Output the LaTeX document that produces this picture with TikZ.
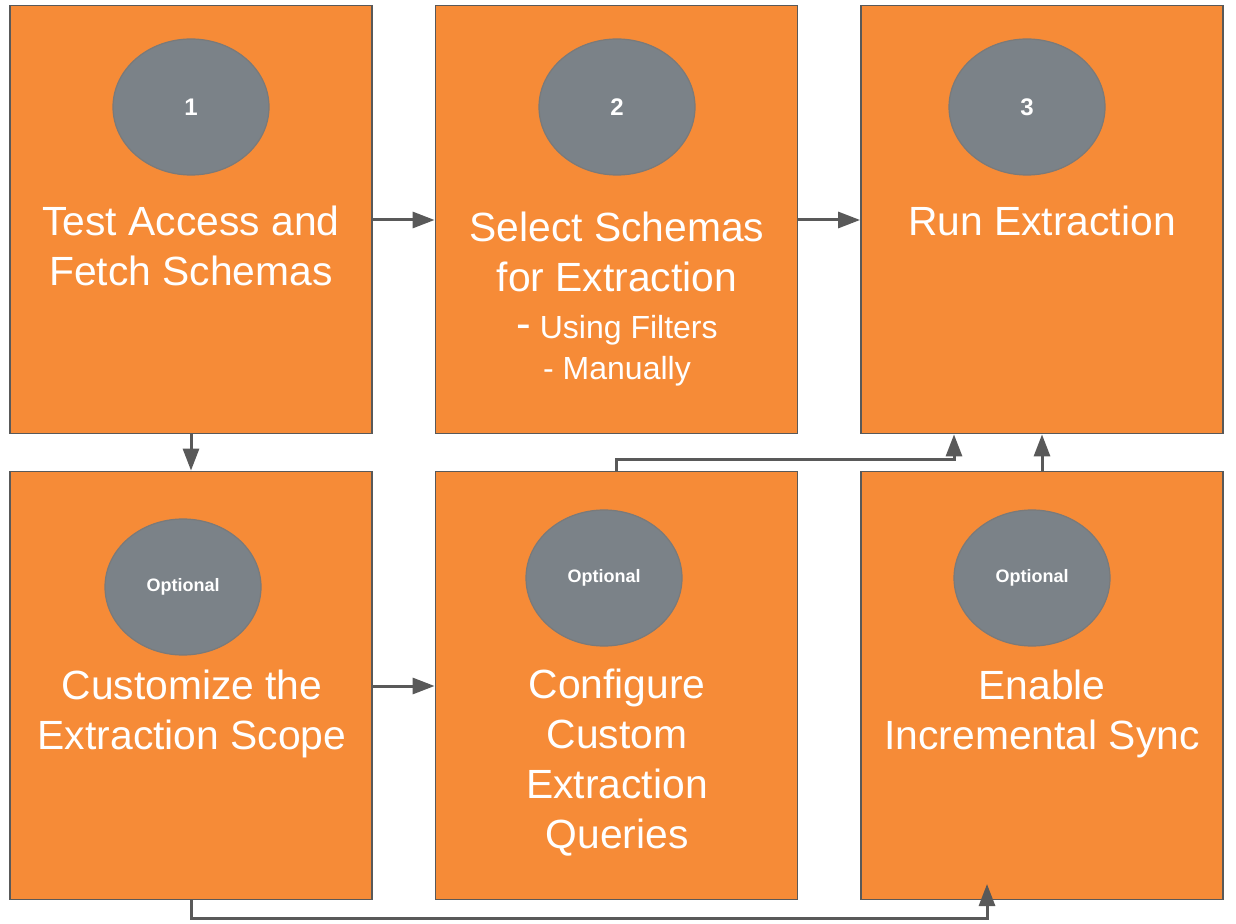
\documentclass[tikz,border=0pt]{standalone}
\usepackage{fontspec}
\setmainfont{Liberation Sans}
\usepackage{xcolor}
\usetikzlibrary{shapes.geometric,arrows.meta,positioning}
\definecolor{stepor}{HTML}{F68B37}
\definecolor{badge}{HTML}{7B8288}
\definecolor{edge}{HTML}{595959}

\begin{document}
\begin{tikzpicture}
	[x=0.5pt,y=-0.5pt,
	stepbox/.style={rectangle,draw=edge,fill=stepor,line width=0.9pt,minimum width=181pt,minimum height=214pt,inner sep=0pt},
	badgenode/.style={ellipse,draw=edge!80,fill=badge,line width=0.6pt,minimum width=78pt,minimum height=68pt,text=white,font=\bfseries},
	title/.style={text=white,align=center,font=\fontsize{20.4}{25}\selectfont},
	flow/.style={draw=edge,line width=1.5pt,-{Triangle[length=11pt,width=8pt]}}]
	\useasboundingbox (0,0) rectangle (1236,924);
	% top row
	\node [stepbox] (test) at (191,219.5) {};
	\node [stepbox] (select) at (616.5,219.5) {};
	\node [stepbox] (run) at (1042,219.5) {};
	% bottom row
	\node [stepbox] (scope) at (191,685.5) {};
	\node [stepbox] (custom) at (616.5,685.5) {};
	\node [stepbox] (incr) at (1042,685.5) {};
	% badges
	\node [badgenode,font=\fontsize{12}{14}\selectfont\bfseries] (b1) at (191,107) {1};
	\node [badgenode,font=\fontsize{12}{14}\selectfont\bfseries] (b2) at (617,107) {2};
	\node [badgenode,font=\fontsize{12}{14}\selectfont\bfseries] (b3) at (1027,107) {3};
	\node [badgenode,font=\fontsize{9}{11}\selectfont\bfseries] (b4) at (183,587) {Optional};
	\node [badgenode,font=\fontsize{9}{11}\selectfont\bfseries] (b5) at (604,578) {Optional};
	\node [badgenode,font=\fontsize{9}{11}\selectfont\bfseries] (b6) at (1032,578) {Optional};
	% texts
	\node [title] (t1) at (191,246) {Test Access and\\Fetch Schemas};
	\node [title] (t2) at (617,252) {Select Schemas\\for Extraction};
	\node [title,font=\fontsize{16}{20.5}\selectfont] (t2b) at (617,351) {{\fontsize{22}{20.5}\selectfont -} Using Filters\\- Manually};
	\node [title] (t3) at (1042,221) {Run Extraction};
	\node [title] (t4) at (192,714) {Customize the\\Extraction Scope};
	\node [title] (t5) at (617,763) {Configure\\Custom\\Extraction\\Queries};
	\node [title] (t6) at (1042,714) {Enable\\Incremental Sync};
	% connectors
	\coordinate (syncin) at (987,884);
	\draw [flow] (test.east |- 0,220) -- (select.west |- 0,220);
	\draw [flow] (select.east |- 0,220) -- (run.west |- 0,220);
	\draw [flow] (test.south) -- (scope.north);
	\draw [flow] (scope.east |- 0,686) -- (custom.west |- 0,686);
	\draw [flow] (custom.north) -- ++(0,-11) -| ([xshift=-44pt]run.south);
	\draw [flow] (incr.north) -- (run.south);
	\draw [flow] (scope.south) -- ++(0,18) -| (syncin);
\end{tikzpicture}
\end{document}
